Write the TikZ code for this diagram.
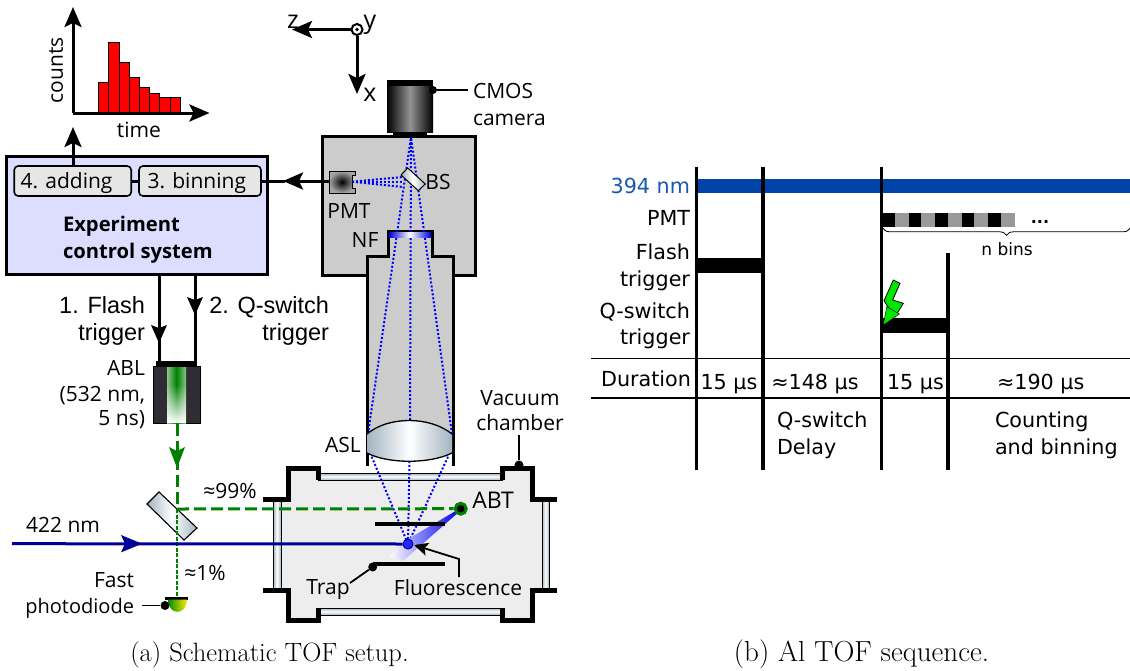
\documentclass[tikz,border=0pt]{standalone}
\usepackage{fontspec}
\newfontfamily\segoe{Open Sans}
\newfontfamily\arialf{Liberation Sans}
\newfontfamily\dejav{DejaVu Sans}
\usetikzlibrary{arrows.meta,decorations.pathreplacing,shapes.geometric,fadings}
\definecolor{ctrlfill}{HTML}{DDDDFF}
\definecolor{subfill}{HTML}{E6E6E6}
\definecolor{boxgrey}{HTML}{CCCCCC}
\definecolor{chamberfill}{HTML}{EDEDED}
\definecolor{steel}{HTML}{A3B4BF}
\definecolor{beamgreen}{HTML}{008000}
\definecolor{beamblue}{HTML}{000099}
\definecolor{raysblue}{HTML}{0000FF}
\definecolor{barblue}{HTML}{0044AA}
\definecolor{barblack}{HTML}{000000}
\definecolor{bargrey}{HTML}{999999}
\definecolor{ablfill}{HTML}{2F2D33}
\definecolor{boltgreen}{HTML}{00E600}
\tikzset{
  tl/.style={inner sep=0pt,outer sep=0pt,yshift=-5.5pt,font=\segoe\fontsize{21}{25}\selectfont},
  al/.style={inner sep=0pt,outer sep=0pt,yshift=-6pt,font=\arialf\fontsize{23.5}{27}\selectfont},
  dj/.style={inner sep=0pt,outer sep=0pt,yshift=-5.4pt,font=\dejav\fontsize{20.7}{25}\selectfont},
  captxt/.style={inner sep=0pt,outer sep=0pt,yshift=-5.5pt,font=\fontsize{26.5}{30}\selectfont},
  wire/.style={line width=3pt,draw=black},
  thinwire/.style={line width=2pt,draw=black},
  bigtip/.style={-{Stealth[length=20pt,width=17pt,inset=4pt]}},
  subbox/.style={draw=black,line width=1.6pt,fill=subfill,rounded corners=4pt,inner sep=0pt},
  ray/.style={draw=raysblue,line width=2pt,dash pattern=on 2pt off 2pt},
  wall/.style={draw=black,line width=5pt,line join=miter},
  tube/.style={draw=black,line width=3pt,line join=miter},
  tline/.style={draw=black,line width=3.6pt},
  hline/.style={draw=black,line width=1.1pt},
  dot/.style={circle,fill=black,inner sep=0pt,minimum size=8pt},
  windowshade/.style={draw=black,line width=.7pt},
}
\begin{document}
\begin{tikzpicture}[x=1pt,y=-1pt]
\useasboundingbox (0,0) rectangle (1130,670);
% ---------- histogram
\foreach \xa/\xb/\yt in {98.7/108.7/82.3,108.7/119/42.3,119/129/62.3,129/139.3/77.3,139.3/149.7/87.3,149.7/159.7/93,159.7/170/97.7,170/180/97.7}
  \draw[fill=red,draw=black,line width=1pt] (\xa,113) rectangle (\xb,\yt);
\coordinate (orig) at (73,113);
\coordinate (ytip) at (73,7);
\coordinate (xtip) at (209.5,113);
\draw[wire,bigtip] (orig) -- (ytip);
\draw[wire,bigtip] (orig) -- (xtip);
\node[tl,rotate=90] (counts) at (56,65) {counts};
\node[tl,anchor=mid] (timelab) at (139,130) {time};
% ---------- control box
\node[draw=black,line width=3pt,fill=ctrlfill,minimum width=261pt,minimum height=118pt,inner sep=0pt] (ctrl) at (137,215) {};
\node[subbox,minimum width=117pt,minimum height=30pt] (adding) at (72.7,181) {};
\node[subbox,minimum width=122pt,minimum height=30pt] (binning) at (200,181) {};
\node[tl,anchor=mid west] (addlab) at (20.5,181) {4. adding};
\node[tl,anchor=mid west] (binlab) at (147.5,181) {3. binning};
\draw[wire] (adding) -- (binning);
\node[tl,anchor=mid west,font=\segoe\bfseries\fontsize{20.2}{25}\selectfont] (ct1) at (63,224) {Experiment};
\node[tl,anchor=mid west,font=\segoe\bfseries\fontsize{20.2}{25}\selectfont] (ct2) at (63,251) {control system};
\coordinate (uptip) at (73,127);
\draw[wire,bigtip] (adding.north -| uptip) -- (uptip);
% ---------- optics box
\draw[tube,fill=boxgrey] (322,136.5) -- (475,136.5) -- (475,275) -- (453,275) -- (453,256) -- (432,256) -- (432,231.5) -- (388,231.5) -- (388,256) -- (367,256) -- (367,275) -- (322,275) -- cycle;
\fill[boxgrey] (388,231.5) rectangle (432,280) (367,256) rectangle (453,434);
\draw[tube] (388,231.5) -- (388,256) -- (367,256) -- (367,466);
\draw[tube] (432,231.5) -- (432,256) -- (453,256) -- (453,466);
\draw[tube] (388,231.5) -- (432,231.5);
% rays in the tube
\coordinate (camfocus) at (411,137);
\coordinate (lensL) at (368,434);
\coordinate (lensR) at (452,434);
\draw[ray] (lensL) -- (camfocus);
\draw[ray] (lensR) -- (camfocus);
\draw[ray] (410,420) -- (camfocus);
% NF
\shade[left color=blue!85!black,right color=blue!85!black,middle color=white] (389,232.5) rectangle (431,237);
\node[tl,anchor=mid] (nf) at (365,240) {NF};
% lens
\path[left color=steel,right color=steel,middle color=white] (367,434) .. controls (388,416) and (430,416) .. (452,434) -- (452,453) .. controls (430,464) and (388,464) .. (367,453) -- cycle;
\draw[black,line width=1.3pt] (367,434) .. controls (388,416) and (430,416) .. (452,434);
\draw[black,line width=1.3pt] (367,453) .. controls (388,464) and (430,464) .. (452,453);
\node[tl,anchor=mid] (asl) at (343,445) {ASL};
% camera
\shade[left color=black,right color=black,middle color=gray!85] (387,86) rectangle (433,132);
\fill[black] (387,80) rectangle (433,86);
\fill[black] (393,132) rectangle (427,137);
\node[dot] (camdot) at (433,90) {};
\node[tl,anchor=mid west] (cmos) at (473,91) {CMOS};
\node[tl,anchor=mid west] (cmos2) at (473,118) {camera};
\coordinate (camend) at (468,90);
\draw[thinwire] (camdot) -- (camend);
% PMT and BS
\draw[ray] (352,181.7) -- (403,177);
\draw[ray] (352,181.7) -- (403,181.7);
\draw[ray] (352,181.7) -- (403,187);
\shade[inner color=black,outer color=gray!70,draw=black,line width=.8pt] (329,171) -- (355,171) -- (355,175) -- (352,175) -- (352,188.5) -- (355,188.5) -- (355,193) -- (329,193) -- cycle;
\coordinate (pmtport) at (329,181);
\node[tl,anchor=mid] (pmtl) at (349,211) {PMT};
\draw[wire,bigtip] (pmtport) -- (283,181);
\draw[wire] (binning.east) -- (285,181);
\shade[left color=steel,right color=steel,middle color=white,draw=black,line width=1pt] (401,175) -- (407.7,168) -- (425.3,184) -- (418.3,190.7) -- cycle;
\node[tl,anchor=mid] (bs) at (438,182) {BS};
% axes
\node[circle,draw=black,line width=2pt,fill=white,minimum size=11pt,inner sep=0pt] (yax) at (357,29.5) {};
\fill[black] (357,29.5) circle (1.8pt);
\coordinate (ztip) at (292,29.5);
\coordinate (xaxtip) at (357,94);
\draw[wire,bigtip] (yax) -- (ztip);
\draw[wire,bigtip] (yax) -- (xaxtip);
\node[tl,anchor=mid,font=\segoe\fontsize{25}{28}\selectfont] (zl) at (293,21) {z};
\node[tl,anchor=mid,font=\segoe\fontsize{25}{28}\selectfont] (yl) at (370,21) {y};
\node[tl,anchor=mid,font=\segoe\fontsize{25}{28}\selectfont] (xl) at (370,94) {x};
% ---------- trigger and ABL
\fill[ablfill] (153.5,366) rectangle (200,423.5);
\draw[black,line width=.6pt] (153.5,366) rectangle (200,423.5);
\shade[left color=green!50!black!45!white,right color=green!50!black!45!white,middle color=green!50!black] (167,367) rectangle (186,423);
\fill[white,path fading=north] (167,385) rectangle (186,423);
\fill[black] (156,361) rectangle (197,366);
\coordinate (ablF) at (159,362);
\coordinate (ablQ) at (195,362);
\draw[wire] (ablF |- ctrl.south) -- (ablF);
\draw[wire] (ablQ |- ctrl.south) -- (ablQ);
\draw[draw=none,fill=black] (159,343) -- (151,325) -- (159,328) -- (167,325) -- cycle;
\draw[draw=none,fill=black] (195,315) -- (187,297) -- (195,300) -- (203,297) -- cycle;
\node[al,anchor=mid east] (t1) at (145,305) {1. Flash};
\node[al,anchor=mid east] (t2) at (145,332) {trigger};
\node[al,anchor=mid east] (t3) at (329,305) {2. Q-switch};
\node[al,anchor=mid east] (t4) at (329,332) {trigger};
\node[tl,anchor=mid east] (a1) at (145,368) {ABL};
\node[tl,anchor=mid east] (a2) at (145,394) {(532 nm,};
\node[tl,anchor=mid east] (a3) at (145,418) {5 ns)};
% ---------- chamber
\fill[chamberfill] (288,468) -- (318,468) -- (318,476) -- (502,476) -- (502,468) -- (532,468) -- (532,499) -- (546,499) -- (546,590) -- (532,590) -- (532,620) -- (502,620) -- (502,612) -- (318,612) -- (318,620) -- (288,620) -- (288,590) -- (277,590) -- (277,499) -- (288,499) -- cycle;
\shade[windowshade,top color=steel,bottom color=steel,middle color=white] (318,473.3) rectangle (502,480);
\shade[windowshade,top color=steel,bottom color=steel,middle color=white] (318,608) rectangle (502,615);
\shade[windowshade,left color=steel,right color=steel,middle color=white] (273,499) rectangle (281,590);
\shade[windowshade,left color=steel,right color=steel,middle color=white] (542,499) rectangle (549,590);
\draw[wall] (263,499) -- (288,499) -- (288,468) -- (318,468) -- (318,480);
\draw[wall] (502,480) -- (502,468) -- (532,468) -- (532,499) -- (557,499);
\draw[wall] (557,590) -- (532,590) -- (532,620) -- (502,620) -- (502,608);
\draw[wall] (318,608) -- (318,620) -- (288,620) -- (288,590) -- (263,590);
\node[dot,minimum size=9pt] (vacdot) at (519,465) {};
\coordinate (vacend) at (519,435);
\draw[line width=1.8pt,black] (vacdot) -- (vacend);
\node[tl,anchor=mid] (v1) at (520,398) {Vacuum};
\node[tl,anchor=mid] (v2) at (520,423) {chamber};
% rays below lens
\coordinate (ion) at (408,544);
\draw[ray] (371.7,456.7) -- (ion);
\draw[ray] (448,456.7) -- (ion);
\draw[ray] (409.5,461) -- (ion);
% ablation plume
\shade[left color=blue!35,right color=blue!90!black] (408,539) -- (459,509) -- (460,511) -- (419,547) -- cycle;
\shade[left color=white,right color=blue!38] (408,539) -- (419,547) -- (403,561) -- (389,556) -- cycle;
% trap plates
\draw[line width=4pt,black] (375,524) -- (445,524);
\node[dot,minimum size=9pt] (trapdot) at (372.7,567) {};
\draw[line width=4pt,black] (373,564) -- (445,564);
\coordinate (trapend) at (350,583);
\draw[line width=1.8pt,black] (trapdot) -- (trapend);
\node[tl,anchor=mid] (trapl) at (328,587) {Trap};
\node[tl,anchor=mid] (fluo) at (458,588) {Fluorescence};
% beams
\coordinate (bsgreen) at (177,509);
\draw[line width=3pt,beamgreen,dash pattern=on 12pt off 5pt] (177,423.5) -- (bsgreen);
\draw[draw=none,fill=beamgreen] (177,468) -- (169,447) -- (177,451) -- (185,447) -- cycle;
\shade[left color=steel,right color=steel,middle color=white,draw=black,line width=1.1pt] (147,504) -- (159,492) -- (197,528) -- (184,540) -- cycle;
\node[circle,fill=black,draw=beamgreen,line width=3pt,minimum size=11pt,inner sep=0pt] (abt) at (460.7,508.7) {};
\draw[line width=3pt,beamgreen,dash pattern=on 12pt off 5pt] (bsgreen) -- (abt);
\draw[line width=1.2pt,beamgreen,dash pattern=on 4pt off 1.5pt] (177,509) -- (177,596);
\node[circle,fill=blue!85,draw=beamblue,line width=1pt,minimum size=10pt,inner sep=0pt] (ionn) at (ion) {};
\coordinate (b422) at (12,543.7);
\draw[line width=3pt,beamblue] (b422) -- (ionn);
\draw[draw=none,fill=beamblue] (142,543.7) -- (121,535) -- (125,543.7) -- (121,552.4) -- cycle;
\node[tl,anchor=mid] (l422) at (63,525) {422 nm};
\node[tl,anchor=mid] (l99) at (230,491) {≈99\%};
\node[tl,anchor=mid] (l1) at (205,573) {≈1\%};
\node[tl,anchor=mid,font=\segoe\fontsize{23}{26}\selectfont] (labt) at (493,501) {ABT};
\coordinate (fl1) at (459,577);
\coordinate (fl2) at (459,559);
\draw[line width=1.8pt,black,-{Stealth[length=14pt,width=13pt,inset=3pt]}] (fl1) -- (fl2) -- (414,545);
% photodiode
\fill[black] (165,596.7) rectangle (188,599.5);
\shade[left color=green!55!black,right color=yellow!85!orange] (168,599.5) .. controls (168,616) and (187,616) .. (187,599.5) -- cycle;
\node[dot,minimum size=9pt] (pddot) at (165,605.5) {};
\coordinate (pdend) at (142,605.5);
\draw[line width=1.8pt,black] (pddot) -- (pdend);
\node[tl,anchor=mid east] (f1) at (134,580) {Fast};
\node[tl,anchor=mid east,font=\segoe\fontsize{20}{24}\selectfont] (f2) at (134,606) {photodiode};
% ---------- right panel
\fill[barblue] (696.5,179) rectangle (1130,192.7);
\foreach \xa/\xb/\c in {881.6/895/barblack,895/909/bargrey,909/921/barblack,921/935/bargrey,935/948/barblack,948/962/bargrey,962/974/barblack,974/988/bargrey,988/1001/barblack,1001/1015/bargrey}
  \fill[\c] (\xa,213.3) rectangle (\xb,226.7);
\fill[black] (696.5,258) rectangle (762.7,272.7);
\fill[black] (881.6,318.3) rectangle (948,332.7);
\draw[hline] (591,358.7) -- (1130,358.7);
\draw[hline] (591,398) -- (1130,398);
\draw[tline] (696.5,166.7) -- (696.5,470);
\draw[tline] (762.7,166.7) -- (762.7,470);
\draw[tline] (881.6,166.7) -- (881.6,470);
\draw[tline] (948,252.7) -- (948,470);
\draw[black,line width=.8pt,decorate,decoration={brace,mirror,amplitude=7pt}] (883,228.3) -- (1130,228.3);
\draw[fill=boltgreen,draw=black,line width=.8pt] (893.3,280) -- (900,283.3) -- (892.7,300) -- (903.3,303.3) -- (895,317) -- (890,310) -- (884,300.7) -- cycle;
\draw[fill=boltgreen,draw=black,line width=.4pt] (886.7,306.7) -- (899.5,314) -- (883.3,325) -- cycle;
\node[dj,anchor=mid east,text=barblue!90!white] (r1) at (690,186) {394 nm};
\node[dj,anchor=mid east] (r2) at (690,218.3) {PMT};
\node[dj,anchor=mid east] (r3) at (690,251.7) {Flash};
\node[dj,anchor=mid east] (r4) at (690,279) {trigger};
\node[dj,anchor=mid east] (r5) at (690,310.7) {Q-switch};
\node[dj,anchor=mid east] (r6) at (690,337.3) {trigger};
\node[dj,anchor=mid east] (r7) at (691,379.3) {Duration};
\node[dj,anchor=mid] (d1) at (729,381.7) {15 µs};
\node[dj,anchor=mid] (d2) at (815,381.7) {≈148 µs};
\node[dj,anchor=mid] (d3) at (915.5,381.7) {15 µs};
\node[dj,anchor=mid] (d4) at (1040.7,381.7) {≈190 µs};
\node[dj,anchor=mid west] (q1) at (777,420) {Q-switch};
\node[dj,anchor=mid west] (q2) at (777,446.7) {Delay};
\node[dj,anchor=mid west] (c1) at (995,420) {Counting};
\node[dj,anchor=mid west] (c2) at (995,446.7) {and binning};
\node[dj,anchor=mid,yshift=3pt,font=\dejav\bfseries\fontsize{16}{20}\selectfont] (dots) at (1040,219) {...};
\node[dj,anchor=mid,yshift=1pt,font=\dejav\fontsize{17}{20}\selectfont] (nb) at (1007,249.3) {n bins};
% ---------- captions
\node[captxt,anchor=mid] (capa) at (269.5,654) {(a) Schematic TOF setup.};
\node[captxt,anchor=mid,font=\fontsize{29}{32}\selectfont] (capb) at (861.5,654) {(b) Al TOF sequence.};
\end{tikzpicture}
\end{document}
